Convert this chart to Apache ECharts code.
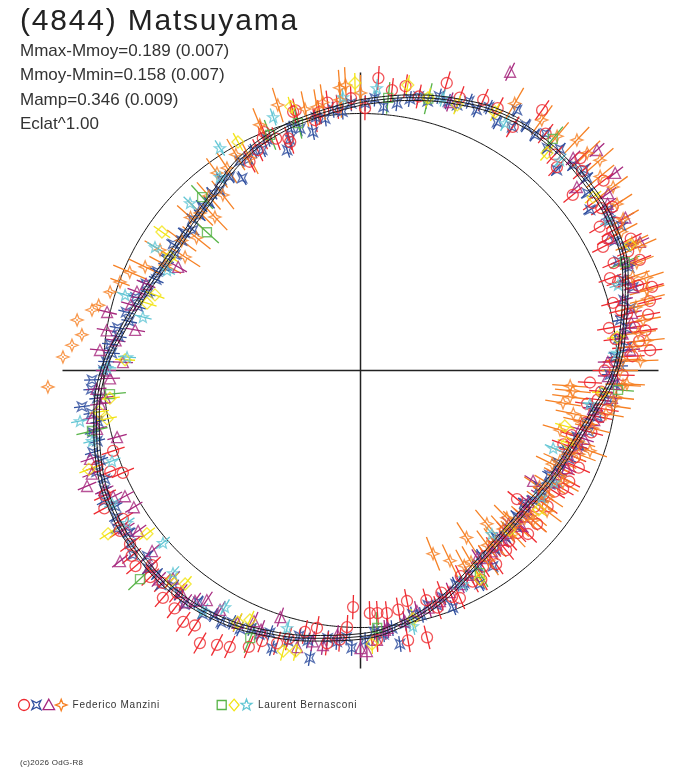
<!DOCTYPE html>
<html>
<head>
<meta charset="utf-8">
<title>(4844) Matsuyama</title>
<script src="https://cdn.jsdelivr.net/npm/echarts@6/dist/echarts.min.js"></script>
<style>
  html, body { margin: 0; padding: 0; background: #fff; }
  #chart { width: 688px; height: 768px; }
</style>
</head>
<body>
<div id="chart"></div>
<script>
// phase in degrees (0 at top, clockwise), brightness as relative flux (1 = reference circle)
const fitPhase = [0, 10, 20, 30, 40, 50, 60, 70, 80, 90, 100, 110, 120, 130, 140, 150, 160, 170,
  180, 190, 200, 210, 220, 230, 240, 250, 260, 270, 280, 290, 300, 310, 320, 330, 340, 350];
const fitFlux = [1.043, 1.078, 1.113, 1.144, 1.152, 1.144, 1.132, 1.097, 1.039, 0.992, 0.922, 0.875,
  0.852, 0.837, 0.848, 0.883, 0.942, 0.996, 1.035, 1.058, 1.086, 1.113, 1.125, 1.121, 1.109, 1.082,
  1.043, 1.000, 0.938, 0.891, 0.864, 0.866, 0.891, 0.942, 0.981, 1.008];
const fitSigma = 0.011;

// [phase, flux, optional error]
const manziniCircle = [
  [1, 1.021], [3.5, 1.14], [6.4, 1.098], [9, 1.12], [12, 1.09], [16.7, 1.168], [20, 1.13], [24.4, 1.156],
  [27.6, 1.152], [32, 1.118], [34.9, 1.235], [38, 1.17], [42, 1.13], [44, 1.10], [46, 1.19], [48, 1.16],
  [50.4, 1.072], [52, 1.20], [54.2, 1.115], [56, 1.13], [57, 1.17], [59, 1.086], [60, 1.15], [61, 1.12],
  [62, 1.09], [63, 1.059], [64, 1.17], [66, 1.14], [67, 1.07], [68.4, 1.169], [69.7, 1.035], [71, 1.06],
  [72, 1.10], [73, 1.13], [74, 1.18], [75, 1.017], [76.5, 1.158], [77, 1.04], [78, 1.06], [79, 1.14],
  [80.3, 0.981], [81, 1.08], [82, 1.12], [83, 1.00], [84, 1.09], [85, 1.03], [86, 1.13], [87, 1.06],
  [88, 0.99], [90, 0.95], [91, 1.02], [93, 0.894], [95, 0.94], [97, 0.93], [98.4, 0.891], [99, 0.97],
  [101, 0.95], [103, 0.90], [105, 0.93], [107, 0.86], [109, 0.89], [110, 0.84], [112, 0.90], [114, 0.93],
  [116, 0.88], [118, 0.92], [120.3, 0.913], [122, 0.89], [124, 0.86], [126, 0.90], [128, 0.86],
  [129.4, 0.788], [131, 0.91], [132, 0.85], [134.3, 0.911], [136, 0.88], [138, 0.84], [139, 0.88],
  [141, 0.90], [143, 0.86], [145, 0.92], [146, 0.87], [148, 0.90], [150, 0.94], [152, 0.93], [154, 0.89],
  [156.4, 0.966], [158, 0.95], [160, 0.92], [162, 0.97], [164, 0.93], [166, 1.07], [168.6, 0.915],
  [170, 1.066], [171, 0.942], [173.8, 0.95], [176, 0.946], [176.5, 1.05], [177.8, 0.945], [181.8, 0.921],
  [183, 1.00], [184.4, 1.05], [187, 1.07], [189.6, 1.016], [192, 1.04], [195, 1.08], [197, 1.11], [200, 1.12],
  [202, 1.16], [205.3, 1.19], [207.6, 1.205], [210.5, 1.231], [213, 1.183], [215.2, 1.197], [218, 1.175],
  [219.5, 1.122], [221, 1.172], [223, 1.13], [225.5, 1.147], [227, 1.11], [229, 1.16], [231, 1.146],
  [233, 1.123], [236.3, 1.125], [238, 1.09], [241.7, 1.132], [244, 1.106], [246.7, 1.007], [248, 1.05],
  [250, 1.09], [252, 1.012], [332, 0.92], [335, 0.946], [337.2, 0.981], [338, 1.00], [340, 0.96],
  [342.7, 0.946], [342.9, 0.93], [345.4, 1.04], [346, 1.043], [349.7, 0.99], [351, 1.018], [353, 1.05],
  [355, 1.03], [358, 1.06]
];
const manziniQuad = [
  [1, 1.04], [3, 1.06], [5, 1.03], [7.8, 1.05], [10.3, 1.074], [12, 1.09], [14, 1.08], [16, 1.11], [18, 1.10],
  [20, 1.099], [22, 1.13], [24, 1.11], [26, 1.14], [28.8, 1.103], [31, 1.182], [31.9, 1.116], [34, 1.15],
  [36.5, 1.14], [38, 1.17], [40, 1.13], [42, 1.16], [44.4, 1.092], [46, 1.15], [48, 1.17], [49.6, 1.157],
  [52, 1.12], [55, 1.09], [57, 1.15], [59, 1.13], [61, 1.16], [63, 1.11], [65, 1.14], [67, 1.09], [69, 1.12],
  [71, 1.08], [73, 1.11], [75, 1.06], [77, 1.08], [79, 1.03], [81, 1.05], [83, 1.01], [85, 1.04], [87, 0.99],
  [89, 1.01], [91, 0.97], [93, 0.99], [95, 0.95], [97, 0.97], [99, 0.92], [101, 0.94], [103, 0.90], [105, 0.92],
  [107, 0.88], [109, 0.90], [111, 0.86], [113, 0.88], [115, 0.85], [117, 0.87], [119, 0.84], [121, 0.86],
  [123, 0.83], [125, 0.86], [127, 0.84], [129, 0.82], [131, 0.85], [133, 0.83], [135, 0.86], [137, 0.84],
  [139, 0.86], [141, 0.84], [143, 0.87], [145.9, 0.92], [147, 0.86], [149, 0.89], [150.8, 0.952], [152, 0.90],
  [154, 0.92], [156, 0.91], [158.7, 0.99], [160, 0.94], [162, 0.96], [164, 0.95], [166, 0.98], [168, 0.97],
  [170, 1.00], [171.8, 1.075], [173, 1.01], [175, 1.03], [177, 1.02], [179, 1.05], [181.8, 1.08], [183, 1.04],
  [185, 1.06], [187, 1.05], [190, 1.136], [191, 1.07], [193, 1.06], [195, 1.09], [197.7, 1.134], [199, 1.08],
  [201, 1.10], [203, 1.09], [205, 1.11], [207, 1.10], [209, 1.12], [211, 1.11], [213, 1.13], [215, 1.10],
  [217, 1.14], [219, 1.12], [221, 1.11], [223, 1.14], [225, 1.12], [227, 1.13], [229, 1.10], [231, 1.14],
  [233, 1.12], [235, 1.10], [237, 1.13], [239, 1.11], [241, 1.09], [243, 1.12], [245, 1.10], [247, 1.08],
  [249, 1.10], [251, 1.07], [253, 1.09], [255, 1.06], [257, 1.07], [259, 1.04], [261, 1.06], [262.6, 1.093],
  [264, 1.03], [266, 1.05], [268, 1.045], [270, 1.00], [272, 0.99], [274, 0.97], [276, 0.98], [278, 0.95],
  [280, 0.96], [282, 0.92], [284, 0.94], [286, 0.90], [288, 0.92], [290, 0.88], [292, 0.90], [294, 0.87],
  [296, 0.88], [298, 0.86], [300, 0.87], [302, 0.85], [304, 0.88], [306, 0.86], [308, 0.87], [310, 0.85],
  [312, 0.88], [314, 0.87], [316, 0.89], [318, 0.88], [320, 0.90], [322, 0.89], [324, 0.92], [326, 0.91],
  [328.4, 0.879], [330, 0.94], [332, 0.93], [334, 0.95], [336, 0.94], [338, 0.97], [341.6, 0.904], [343, 0.94],
  [344, 0.98], [346, 0.97], [348.7, 0.946], [350, 1.00], [352, 0.99], [354, 1.02], [356, 1.01], [358, 1.04]
];
const manziniTriangle = [
  [18.4, 1.101], [26.6, 1.30], [45, 1.17], [47, 1.258], [49.7, 1.104], [52.2, 1.254], [54.4, 1.185],
  [56, 1.16], [58, 1.14], [60, 1.19], [62, 1.10], [65.3, 1.197], [68, 1.12], [71, 1.09], [73, 1.11],
  [75, 1.058], [78, 1.08], [80, 1.07], [82, 1.03], [85.6, 1.052], [88, 0.963], [91.3, 0.963], [93, 1.00],
  [96.2, 0.984], [99.4, 0.917], [102, 0.93], [105, 0.884], [107, 0.91], [109.7, 0.895], [112, 0.87],
  [115.3, 0.889], [118, 0.86], [120, 0.87], [122.6, 0.797], [125, 0.85], [128, 0.83], [130, 0.84], [132, 0.85],
  [134, 0.87], [136, 0.83], [138, 0.85], [140, 0.86], [142, 0.86], [144, 0.87], [146, 0.88], [148.1, 0.859],
  [152, 0.90], [155, 0.917], [158, 0.93], [161, 0.949], [164, 0.96], [166.8, 0.961], [170, 0.99], [174, 1.007],
  [174.6, 1.014], [176.5, 1.05], [178.7, 1.092], [180, 1.08], [185, 1.033], [187.8, 1.078], [190, 1.07],
  [192.9, 1.104], [198, 1.009], [201, 1.08], [203, 1.06], [206, 1.092], [210.4, 1.08], [213.8, 1.075],
  [215.7, 1.104], [217, 1.13], [219, 1.11], [222, 1.09], [224, 1.13], [227, 1.12], [229.1, 1.073],
  [231.6, 1.194], [234.2, 1.067], [236, 1.10], [238.9, 1.03], [241.9, 1.039], [243, 1.08], [245, 1.10],
  [247.1, 1.155], [249, 1.12], [251.9, 1.107], [254.7, 0.982], [257.5, 1.05], [260, 1.06], [262.7, 1.022],
  [264, 1.00], [266, 1.03], [268.2, 0.975], [270, 0.99], [272, 0.925], [274.5, 1.017], [277, 0.96],
  [279, 1.00], [280.2, 0.891], [283, 1.012], [286, 0.93], [289.4, 0.922], [292, 0.90], [299.6, 0.816]
];
const manziniStar = [
  [267, 1.218, 0.004], [272.6, 1.159, 0.004], [275, 1.127, 0.004], [277.3, 1.093, 0.004], [280.1, 1.12, 0.004],
  [282.7, 1.071, 0.004], [284, 1.05, 0.01], [287.4, 1.021, 0.01], [290.2, 0.997, 0.04], [293.1, 0.976],
  [295.7, 0.930], [298.4, 0.864], [301, 0.91], [302.9, 0.813], [306, 0.86], [309, 0.821], [312, 0.89],
  [314.5, 0.875], [316.5, 0.823], [319, 0.90], [321.9, 0.868], [324, 0.95], [326.6, 0.944], [330, 0.97],
  [332.5, 0.932], [337.7, 1.033], [342.7, 1.082], [348, 1.04], [350.6, 1.039], [352, 1.054], [355.7, 1.056],
  [355.8, 1.103], [357, 1.112], [0, 1.08], [30, 1.20], [35.9, 1.203], [40, 1.19], [43.2, 1.23], [46.2, 1.222],
  [48.7, 1.24], [51, 1.20], [54, 1.215], [57, 1.19], [60, 1.18], [62, 1.15], [64.8, 1.167], [66, 1.19],
  [68.7, 1.154], [71, 1.12], [72, 1.17], [74.3, 1.158], [76, 1.15], [77, 1.10], [79.9, 1.117], [82.3, 1.09],
  [84, 1.12], [85, 1.07], [87.7, 1.022], [88, 1.09], [90, 1.01], [92.9, 1.038], [93.2, 1.023], [94.2, 0.818],
  [95.5, 0.83], [96, 1.00], [97.2, 0.822], [98, 0.992], [99.1, 0.798], [100, 0.97], [101.5, 0.845], [103, 0.88],
  [104, 0.93], [106.6, 0.81], [108, 0.89], [109.3, 0.946], [111, 0.91], [112, 0.87], [114.4, 0.852], [116, 0.83],
  [117.9, 0.878], [119, 0.90], [121, 0.86], [123, 0.83], [124, 0.88], [126, 0.87], [127, 0.909], [129.8, 0.873],
  [131, 0.89], [132, 0.86], [134.6, 0.85], [135.2, 0.808], [137, 0.87], [138, 0.83], [140.5, 0.773], [142, 0.85],
  [144, 0.84], [146, 0.89], [147.6, 0.77], [150, 0.86], [152, 0.86], [154.8, 0.818], [158.4, 0.767]
];
const bernasconiSquare = [
  [5.8, 1.066], [14, 1.09], [39.7, 1.171], [67.7, 1.112], [94.3, 1.005], [149.5, 0.915], [176.3, 1.004],
  [202.4, 1.126], [226.6, 1.181], [257.3, 1.071], [264.6, 0.979], [312, 0.804], [317.6, 0.914],
  [339, 0.982], [345.8, 0.993]
];
const bernasconiDiamond = [
  [358.9, 1.119], [9.4, 1.126], [13.9, 1.093], [20, 1.10], [27.5, 1.134], [40.6, 1.115], [53.3, 1.129],
  [65, 1.157], [82.6, 1.007], [95.3, 0.944], [105.2, 0.824], [109.3, 0.852], [128, 0.88], [137, 0.85],
  [150.2, 0.935], [168, 0.988], [177.6, 1.065], [193, 1.12], [195.4, 1.132], [203.9, 1.062], [206, 1.09],
  [219.4, 1.075], [222, 1.10], [232.6, 1.046], [237.1, 1.17], [250, 1.125], [259.2, 1.004], [261, 1.03],
  [263.7, 0.981], [272.6, 0.917], [287.5, 0.871], [290.2, 0.852], [300.8, 0.863], [304.9, 0.942],
  [331.8, 1.009], [345.2, 1.062]
];
const bernasconiStar = [
  [3.3, 1.101], [16.8, 1.108], [30.3, 1.115], [43.5, 1.128], [58.7, 1.127], [71.6, 1.056], [86, 1.0],
  [98.3, 0.902], [111.9, 0.808], [120, 0.87], [125, 0.86], [141.2, 0.816], [154.4, 0.921], [168.4, 1.015],
  [195.9, 1.042], [209.8, 1.061], [213.2, 1.119], [222.8, 1.074], [228.9, 1.02], [236.9, 1.085],
  [241.9, 1.096], [250, 1.029], [255.3, 1.08], [259.8, 1.109], [270.6, 0.986], [273.3, 0.91], [283.8, 0.872],
  [287.8, 0.962], [297.4, 0.848], [301, 0.933], [314.5, 0.93], [324, 0.931], [327.7, 1.024], [341, 1.043],
  [356.3, 1.066]
];

const titleText = '(4844) Matsuyama';
const statLines = ['Mmax-Mmoy=0.189 (0.007)', 'Mmoy-Mmin=0.158 (0.007)', 'Mamp=0.346 (0.009)', 'Eclat^1.00'];
const creditText = '(c)2026 OdG-R8';

const REF_PX = 257;
const OUTER_PX = 298;
const FONT = '"Liberation Sans", Arial, sans-serif';
const LINE_W = 1.3;

// marker outlines in a unit box
const star5 = [];
for (let k = 0; k < 10; k++) {
  const a = (-90 + 36 * k) * Math.PI / 180;
  const r = k % 2 ? 0.42 : 1;
  star5.push([r * Math.cos(a), r * Math.sin(a)]);
}
const shapes = {
  quad: [[-1, -1], [0, -0.5], [1, -1], [0.5, 0], [1, 1], [0, 0.5], [-1, 1], [-0.5, 0]],
  tri: [[0, -1], [1, 0.8], [-1, 0.8]],
  star4: [[0, -1], [0.28, -0.28], [1, 0], [0.28, 0.28], [0, 1], [-0.28, 0.28], [-1, 0], [-0.28, -0.28]],
  square: [[-1, -1], [1, -1], [1, 1], [-1, 1]],
  diamond: [[0, -1], [0.85, 0], [0, 1], [-0.85, 0]],
  star5: star5
};
const toPath = (pts) => 'path://M' + pts.map((p) => p[0].toFixed(3) + ',' + p[1].toFixed(3)).join('L') + 'Z';

const observers = [
  {
    name: 'Federico Manzini', x: 24,
    sets: [
      { data: manziniQuad, color: '#2f4f9f', shape: 'quad', size: 9, err: 0.031 },
      { data: manziniTriangle, color: '#a6287e', shape: 'tri', size: 11, err: 0.039 },
      { data: manziniCircle, color: '#ee2a30', shape: 'circle', size: 11, err: 0.047 },
      { data: manziniStar, color: '#f68124', shape: 'star4', size: 12, err: 0.07 }
    ],
    legendOrder: [2, 0, 1, 3]
  },
  {
    name: 'Laurent Bernasconi', x: 221.7,
    sets: [
      { data: bernasconiSquare, color: '#58b448', shape: 'square', size: 9, err: 0.062 },
      { data: bernasconiDiamond, color: '#f2e414', shape: 'diamond', size: 12, err: 0.039 },
      { data: bernasconiStar, color: '#62c6d4', shape: 'star5', size: 11, err: 0.035 }
    ],
    legendOrder: [0, 1, 2]
  }
];

const series = [];

// reference circle
const refCircle = [];
for (let a = 0; a <= 360; a += 3) refCircle.push([1, a]);
series.push({
  type: 'line', coordinateSystem: 'polar', data: refCircle, smooth: true, showSymbol: false,
  lineStyle: { color: '#111', width: 1 }, silent: true, z: 1
});

observers.forEach((ob) => {
  ob.sets.forEach((s) => {
    series.push({
      type: 'custom', coordinateSystem: 'polar', silent: true, z: 2, clip: false,
      data: s.data.map((p) => [p[1], p[0], p[2] !== undefined ? p[2] : s.err]),
      renderItem: (params, api) => {
        const f = api.value(0), a = api.value(1), e = api.value(2);
        const p1 = api.coord([f - e, a]);
        const p2 = api.coord([f + e, a]);
        return {
          type: 'line',
          shape: { x1: p1[0], y1: p1[1], x2: p2[0], y2: p2[1] },
          style: { stroke: s.color, lineWidth: LINE_W }
        };
      }
    });
    series.push({
      type: 'scatter', coordinateSystem: 'polar', silent: true, z: 3, clip: false,
      data: s.data.map((p) => [p[1], p[0]]),
      symbol: s.shape === 'circle' ? 'circle' : toPath(shapes[s.shape]),
      symbolSize: s.size,
      symbolKeepAspect: s.shape === 'star5',
      itemStyle: { color: 'rgba(0,0,0,0)', borderColor: s.color, borderWidth: LINE_W }
    });
  });
});

// fitted curve with its uncertainty band
const closedIdx = fitPhase.map((_, i) => i).concat([0]);
[-fitSigma, 0, fitSigma].forEach((d) => {
  series.push({
    type: 'line', coordinateSystem: 'polar', smooth: 0.4, showSymbol: false, silent: true, z: 6,
    data: closedIdx.map((i, k) => [fitFlux[i] + d, k === fitPhase.length ? 360 : fitPhase[i]]),
    lineStyle: { color: '#1a1a1a', width: 1 }
  });
});

// letter-spaced text, one element per character
const measureCtx = document.createElement('canvas').getContext('2d');
function spacedText(str, x, y, font, spacing, fill) {
  measureCtx.font = font;
  const children = [];
  let cx = x;
  for (const ch of str) {
    children.push({ type: 'text', x: cx, y: y, style: { text: ch, font: font, fill: fill, verticalAlign: 'middle' } });
    cx += measureCtx.measureText(ch).width + spacing;
  }
  return { type: 'group', children: children };
}

const graphic = [spacedText(titleText, 20, 21.5, '30px ' + FONT, 1.8, '#222')];
statLines.forEach((t, i) => {
  graphic.push({ type: 'text', x: 20, y: 51.5 + i * 24.3, style: { text: t, font: '17px ' + FONT, fill: '#333', verticalAlign: 'middle' } });
});

// hand-made legend: several symbols per observer
const LEG_Y = 705;
observers.forEach((ob) => {
  let x = ob.x;
  ob.legendOrder.forEach((j) => {
    const s = ob.sets[j];
    const half = s.shape === 'quad' || s.shape === 'square' ? 4.5 : 5.8;
    if (s.shape === 'circle') {
      graphic.push({ type: 'circle', shape: { cx: x, cy: LEG_Y, r: 5.5 }, style: { fill: 'none', stroke: s.color, lineWidth: LINE_W } });
    } else {
      graphic.push({
        type: 'polygon',
        shape: { points: shapes[s.shape].map((p) => [x + p[0] * half, LEG_Y + p[1] * half]) },
        style: { fill: 'none', stroke: s.color, lineWidth: LINE_W }
      });
    }
    x += 12.4;
  });
  graphic.push(spacedText(ob.name, x - 1, LEG_Y + 0.5, '10px ' + FONT, 0.7, '#333'));
});
graphic.push(spacedText(creditText, 20, 762.5, '8px ' + FONT, 0.3, '#333'));

const chart = echarts.init(document.getElementById('chart'), null, { renderer: 'canvas' });
chart.setOption({
  animation: false,
  backgroundColor: '#fff',
  polar: { center: [360.5, 370.5], radius: OUTER_PX },
  angleAxis: {
    type: 'value', min: 0, max: 360, interval: 90, startAngle: 90, clockwise: true,
    axisLine: { show: false }, axisTick: { show: false }, axisLabel: { show: false },
    splitLine: { show: true, lineStyle: { color: '#222', width: 1.5 } }
  },
  radiusAxis: {
    type: 'value', min: 0, max: OUTER_PX / REF_PX,
    axisLine: { show: false }, axisTick: { show: false }, axisLabel: { show: false },
    splitLine: { show: false }
  },
  graphic: graphic,
  series: series
});
</script>
</body>
</html>
